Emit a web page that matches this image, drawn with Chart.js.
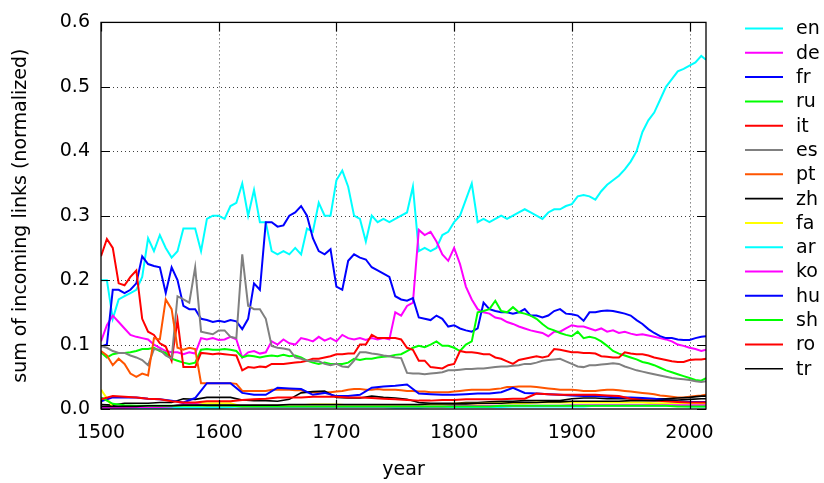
<!DOCTYPE html>
<html><head><meta charset="utf-8">
<script src="https://cdn.jsdelivr.net/npm/chart.js@4.4.0/dist/chart.umd.min.js"></script>
<style>html,body{margin:0;padding:0;background:#fff}#wrap{width:824px;height:483px}</style>
</head><body><div id="wrap"><canvas id="c" width="824" height="483"></canvas></div>
<script>
const yearsFine = [
1500,1505,1510,1515,1520,1525,1530,1535,1540,1545,
1550,1555,1560,1565,1570,1575,1580,1585,1590,1595,
1600,1605,1610,1615,1620,1625,1630,1635,1640,1645,
1650,1655,1660,1665,1670,1675,1680,1685,1690,1695,
1700,1705,1710,1715,1720,1725,1730,1735,1740,1745,
1750,1755,1760,1765,1770,1775,1780,1785,1790,1795,
1800,1805,1810,1815,1820,1825,1830,1835,1840,1845,
1850,1855,1860,1865,1870,1875,1880,1885,1890,1895,
1900,1905,1910,1915,1920,1925,1930,1935,1940,1945,
1950,1955,1960,1965,1970,1975,1980,1985,1990,1995,
2000,2005,2010,2014];
const yearsCoarse = [
1500,1510,1520,1530,1540,1550,1560,1570,1580,1590,
1600,1610,1620,1630,1640,1650,1660,1670,1680,1690,
1700,1710,1720,1730,1740,1750,1760,1770,1780,1790,
1800,1810,1820,1830,1840,1850,1860,1870,1880,1890,
1900,1910,1920,1930,1940,1950,1960,1970,1980,1990,
2000,2010,2014];

const languages = ['en','de','fr','ru','it','es','pt','zh','fa','ar','ko','hu','sh','ro','tr'];
const xTicks = [1500,1600,1700,1800,1900,2000];
const yTicks = [0,0.1,0.2,0.3,0.4,0.5,0.6];

const en = [
0.200,0.200,0.140,0.170,0.175,0.180,0.185,0.205,0.265,0.245,
0.270,0.250,0.235,0.245,0.280,0.280,0.280,0.245,0.295,0.300,
0.300,0.295,0.315,0.320,0.350,0.300,0.340,0.290,0.290,0.245,
0.240,0.245,0.240,0.250,0.240,0.280,0.275,0.320,0.300,0.300,
0.355,0.370,0.345,0.300,0.295,0.260,0.300,0.290,0.295,0.290,
0.295,0.300,0.305,0.345,0.245,0.250,0.245,0.250,0.270,0.275,
0.290,0.300,0.325,0.350,0.290,0.295,0.290,0.295,0.300,0.295,
0.300,0.305,0.310,0.305,0.300,0.295,0.305,0.310,0.310,0.315,
0.318,0.330,0.332,0.330,0.325,0.338,0.348,0.355,0.362,0.372,
0.384,0.400,0.430,0.448,0.460,0.480,0.500,0.512,0.524,0.528,
0.533,0.538,0.548,0.542];
const de = [
0.105,0.130,0.145,0.135,0.125,0.115,0.112,0.110,0.108,0.100,
0.095,0.090,0.088,0.088,0.085,0.088,0.086,0.110,0.108,0.110,
0.107,0.108,0.112,0.108,0.080,0.088,0.090,0.086,0.088,0.105,
0.100,0.108,0.102,0.100,0.110,0.108,0.105,0.112,0.106,0.110,
0.105,0.115,0.110,0.108,0.110,0.107,0.110,0.108,0.110,0.108,
0.150,0.145,0.160,0.165,0.278,0.270,0.275,0.260,0.240,0.230,
0.250,0.225,0.190,0.170,0.155,0.150,0.148,0.142,0.140,0.135,
0.132,0.128,0.125,0.122,0.120,0.118,0.113,0.120,0.120,0.125,
0.130,0.128,0.128,0.125,0.122,0.125,0.120,0.122,0.118,0.120,
0.117,0.115,0.116,0.114,0.112,0.110,0.108,0.105,0.100,0.098,
0.095,0.093,0.090,0.092];
const fr = [
0.097,0.100,0.185,0.185,0.180,0.185,0.195,0.237,0.225,0.222,
0.220,0.180,0.220,0.200,0.160,0.155,0.155,0.140,0.138,0.135,
0.137,0.135,0.138,0.136,0.124,0.140,0.195,0.185,0.290,0.290,
0.283,0.285,0.300,0.305,0.315,0.300,0.265,0.245,0.240,0.248,
0.190,0.185,0.230,0.240,0.235,0.232,0.220,0.215,0.210,0.205,
0.175,0.170,0.168,0.172,0.142,0.140,0.138,0.145,0.140,0.128,
0.130,0.125,0.122,0.120,0.125,0.165,0.155,0.152,0.150,0.150,
0.148,0.150,0.155,0.145,0.145,0.142,0.145,0.152,0.155,0.148,
0.147,0.145,0.137,0.150,0.150,0.152,0.153,0.152,0.150,0.148,
0.145,0.138,0.132,0.124,0.118,0.113,0.110,0.110,0.108,0.107,
0.107,0.110,0.112,0.113];
const ru = [
0.088,0.080,0.085,0.087,0.087,0.088,0.090,0.093,0.093,0.095,
0.090,0.087,0.078,0.075,0.072,0.070,0.072,0.092,0.093,0.092,
0.092,0.093,0.092,0.090,0.080,0.083,0.082,0.080,0.082,0.083,
0.082,0.084,0.082,0.083,0.080,0.075,0.072,0.070,0.072,0.070,
0.070,0.070,0.072,0.078,0.076,0.078,0.078,0.080,0.081,0.082,
0.084,0.085,0.090,0.095,0.098,0.096,0.100,0.105,0.098,0.098,
0.095,0.090,0.100,0.105,0.150,0.152,0.155,0.168,0.152,0.150,
0.158,0.150,0.148,0.145,0.140,0.132,0.125,0.122,0.118,0.115,
0.113,0.120,0.110,0.112,0.110,0.105,0.098,0.090,0.086,0.083,
0.080,0.077,0.073,0.071,0.068,0.064,0.060,0.057,0.054,0.051,
0.048,0.045,0.044,0.048];
const it = [
0.237,0.264,0.250,0.195,0.192,0.205,0.215,0.140,0.120,0.115,
0.102,0.097,0.075,0.138,0.065,0.065,0.065,0.087,0.086,0.085,
0.086,0.085,0.084,0.083,0.060,0.065,0.064,0.066,0.065,0.070,
0.070,0.070,0.071,0.072,0.073,0.075,0.078,0.078,0.080,0.082,
0.085,0.085,0.086,0.086,0.100,0.100,0.115,0.110,0.110,0.110,
0.110,0.108,0.095,0.092,0.075,0.075,0.065,0.064,0.063,0.068,
0.070,0.090,0.088,0.088,0.087,0.085,0.085,0.080,0.078,0.074,
0.070,0.076,0.078,0.080,0.082,0.080,0.082,0.093,0.092,0.090,
0.088,0.088,0.087,0.087,0.086,0.082,0.081,0.080,0.080,0.088,
0.086,0.085,0.085,0.083,0.080,0.078,0.076,0.074,0.073,0.073,
0.076,0.077,0.077,0.078];
const es = [
0.098,0.095,0.090,0.087,0.087,0.083,0.080,0.076,0.068,0.093,
0.092,0.083,0.078,0.175,0.170,0.165,0.220,0.120,0.118,0.116,
0.122,0.122,0.112,0.110,0.240,0.160,0.155,0.155,0.140,0.098,
0.095,0.094,0.092,0.080,0.078,0.075,0.075,0.074,0.070,0.068,
0.070,0.066,0.065,0.075,0.088,0.088,0.086,0.085,0.083,0.082,
0.080,0.079,0.056,0.055,0.055,0.054,0.055,0.056,0.057,0.060,
0.060,0.061,0.062,0.062,0.063,0.063,0.064,0.065,0.066,0.066,
0.067,0.068,0.070,0.070,0.072,0.075,0.076,0.077,0.078,0.074,
0.070,0.066,0.065,0.068,0.068,0.069,0.070,0.071,0.070,0.066,
0.063,0.060,0.058,0.056,0.054,0.052,0.050,0.048,0.047,0.046,
0.045,0.043,0.042,0.043];
const pt = [
0.090,0.083,0.068,0.078,0.070,0.055,0.050,0.055,0.052,0.110,
0.108,0.170,0.155,0.095,0.092,0.095,0.093,0.040,0.040,0.040,
0.040,0.040,0.040,0.039,0.028,0.028,0.028,0.028,0.028,0.030,
0.030,0.030,0.030,0.029,0.029,0.026,0.026,0.026,0.026,0.026,
0.027,0.028,0.030,0.031,0.031,0.030,0.030,0.031,0.030,0.030,
0.030,0.029,0.028,0.028,0.027,0.027,0.026,0.026,0.026,0.026,
0.027,0.028,0.029,0.030,0.030,0.030,0.030,0.031,0.032,0.034,
0.034,0.035,0.035,0.035,0.034,0.033,0.032,0.031,0.030,0.030,
0.030,0.029,0.028,0.028,0.028,0.029,0.030,0.030,0.029,0.028,
0.027,0.026,0.025,0.024,0.023,0.021,0.020,0.019,0.018,0.018,
0.019,0.020,0.021,0.022];
const zh = [
0.007,0.006,0.009,0.009,0.009,0.010,0.010,0.016,0.015,0.018,
0.018,0.018,0.014,0.013,0.013,0.012,0.015,0.025,0.027,0.028,
0.018,0.017,0.017,0.020,0.018,0.017,0.015,0.010,0.009,0.009,
0.009,0.010,0.010,0.011,0.012,0.012,0.013,0.013,0.013,0.013,
0.016,0.017,0.017,0.016,0.016,0.016,0.016,0.016,0.016,0.017,
0.018,0.020,0.020];
const fa = [
0.030,0.003,0.003,0.003,0.003,0.003,0.003,0.008,0.009,0.009,
0.009,0.009,0.004,0.005,0.005,0.005,0.005,0.006,0.007,0.007,
0.007,0.006,0.006,0.006,0.006,0.006,0.006,0.006,0.007,0.007,
0.008,0.008,0.008,0.009,0.009,0.009,0.009,0.010,0.010,0.010,
0.010,0.010,0.010,0.010,0.010,0.010,0.010,0.009,0.009,0.009,
0.009,0.008,0.008];
const ar = [
0.002,0.002,0.002,0.002,0.002,0.002,0.002,0.002,0.002,0.002,
0.002,0.003,0.004,0.003,0.003,0.003,0.003,0.003,0.003,0.003,
0.003,0.003,0.003,0.003,0.003,0.002,0.002,0.002,0.003,0.003,
0.003,0.003,0.003,0.003,0.003,0.004,0.004,0.004,0.004,0.004,
0.004,0.004,0.005,0.005,0.005,0.005,0.005,0.005,0.005,0.005,
0.004,0.004,0.004];
const ko = [
0.002,0.002,0.002,0.003,0.003,0.003,0.004,0.008,0.008,0.005,
0.005,0.005,0.004,0.004,0.004,0.004,0.004,0.004,0.004,0.004,
0.004,0.004,0.004,0.004,0.004,0.004,0.004,0.004,0.004,0.004,
0.005,0.005,0.005,0.005,0.005,0.005,0.005,0.005,0.005,0.005,
0.006,0.006,0.006,0.006,0.006,0.006,0.006,0.006,0.006,0.006,
0.006,0.006,0.006];
const hu = [
0.012,0.018,0.018,0.018,0.016,0.015,0.013,0.010,0.017,0.040,
0.040,0.040,0.025,0.022,0.022,0.033,0.032,0.031,0.022,0.025,
0.020,0.020,0.022,0.033,0.035,0.036,0.038,0.024,0.023,0.022,
0.022,0.023,0.024,0.024,0.026,0.033,0.025,0.024,0.023,0.022,
0.021,0.020,0.020,0.019,0.018,0.018,0.017,0.016,0.014,0.012,
0.011,0.011,0.011];
const sh = [
0.018,0.008,0.006,0.005,0.005,0.005,0.005,0.005,0.005,0.005,
0.005,0.005,0.004,0.004,0.004,0.004,0.004,0.004,0.004,0.004,
0.004,0.004,0.004,0.004,0.004,0.004,0.004,0.004,0.004,0.004,
0.004,0.004,0.004,0.004,0.005,0.005,0.005,0.005,0.005,0.005,
0.005,0.005,0.005,0.005,0.005,0.005,0.005,0.005,0.005,0.004,
0.004,0.004,0.004];
const ro = [
0.015,0.020,0.019,0.018,0.016,0.015,0.012,0.010,0.010,0.012,
0.012,0.012,0.014,0.015,0.016,0.018,0.018,0.018,0.019,0.019,
0.019,0.018,0.018,0.017,0.016,0.015,0.014,0.013,0.013,0.014,
0.014,0.015,0.015,0.015,0.015,0.016,0.016,0.024,0.023,0.022,
0.022,0.022,0.022,0.021,0.020,0.016,0.014,0.013,0.012,0.011,
0.010,0.010,0.010];
const tr = [
0.004,0.004,0.004,0.004,0.005,0.005,0.005,0.006,0.006,0.006,
0.006,0.006,0.006,0.006,0.006,0.006,0.007,0.007,0.007,0.007,
0.007,0.007,0.007,0.007,0.007,0.007,0.007,0.007,0.008,0.008,
0.008,0.008,0.009,0.009,0.009,0.010,0.010,0.010,0.011,0.011,
0.012,0.012,0.012,0.012,0.012,0.013,0.013,0.013,0.014,0.014,
0.015,0.016,0.016];

const seriesValues = [en,de,fr,ru,it,es,pt,zh,fa,ar,ko,hu,sh,ro,tr];
const seriesYears = [yearsFine,yearsFine,yearsFine,yearsFine,yearsFine,yearsFine,yearsFine,
  yearsCoarse,yearsCoarse,yearsCoarse,yearsCoarse,yearsCoarse,yearsCoarse,yearsCoarse,yearsCoarse];
const colors = ['#00ffff','#ff00ff','#0000ff','#00ff00','#ff0000','#808080','#ff5500','#000000',
  '#ffff00','#00ffff','#ff00ff','#0000ff','#00ff00','#ff0000','#000000'];
const widths = [2,2,2,2,2,2,2,1.6,2,2,2,2,2,2,1.6];

const FONT = 'DejaVu Sans';
const FS = 19;

const datasets = languages.map((lab, i) => ({
  label: lab,
  data: seriesYears[i].map((yr, j) => ({x: yr, y: seriesValues[i][j]})),
  borderColor: colors[i],
  backgroundColor: colors[i],
  borderWidth: widths[i],
  pointRadius: 0,
  tension: 0,
  fill: false,
  order: languages.length - i
}));

const framePlugin = {
  id: 'frame',
  beforeDatasetsDraw(chart) {
    const {ctx, chartArea: a, scales: {x, y}} = chart;
    ctx.save();
    ctx.strokeStyle = 'rgba(0,0,0,0.75)';
    ctx.lineWidth = 1;
    ctx.setLineDash([1, 3]);
    xTicks.forEach(v => {
      if (v > x.min && v < x.max) {
        const px = Math.round(x.getPixelForValue(v)) + 0.5;
        ctx.beginPath(); ctx.moveTo(px, a.top); ctx.lineTo(px, a.bottom); ctx.stroke();
      }
    });
    yTicks.forEach(v => {
      if (v > y.min && v < y.max) {
        const py = Math.round(y.getPixelForValue(v)) + 0.5;
        ctx.beginPath(); ctx.moveTo(a.left, py); ctx.lineTo(a.right, py); ctx.stroke();
      }
    });
    ctx.restore();
  },
  afterDatasetsDraw(chart) {
    const {ctx, chartArea: a, scales: {x, y}} = chart;
    ctx.save();
    ctx.setLineDash([]);
    ctx.strokeStyle = '#000';
    ctx.lineWidth = 1.3;
    ctx.strokeRect(a.left, a.top, a.right - a.left, a.bottom - a.top);
    const tl = 9;
    ctx.lineWidth = 1.2;
    xTicks.forEach(v => {
      const px = Math.round(x.getPixelForValue(v)) + 0.5;
      ctx.beginPath();
      ctx.moveTo(px, a.bottom); ctx.lineTo(px, a.bottom - tl);
      ctx.moveTo(px, a.top); ctx.lineTo(px, a.top + tl);
      ctx.stroke();
    });
    yTicks.forEach(v => {
      const py = Math.round(y.getPixelForValue(v)) + 0.5;
      ctx.beginPath();
      ctx.moveTo(a.left, py); ctx.lineTo(a.left + tl, py);
      ctx.moveTo(a.right, py); ctx.lineTo(a.right - tl, py);
      ctx.stroke();
    });
    // legend
    ctx.font = FS + 'px "' + FONT + '"';
    ctx.textAlign = 'left';
    ctx.textBaseline = 'middle';
    chart.data.datasets.forEach((ds, i) => {
      const ly = 28.5 + i * 24.3;
      ctx.strokeStyle = ds.borderColor;
      ctx.lineWidth = ds.borderWidth;
      ctx.beginPath(); ctx.moveTo(745, ly); ctx.lineTo(783, ly); ctx.stroke();
      ctx.fillStyle = '#000';
      ctx.fillText(ds.label, 796, ly + 1);
    });
    ctx.restore();
  }
};

new Chart(document.getElementById('c'), {
  type: 'line',
  data: {datasets},
  plugins: [framePlugin],
  options: {
    responsive: false,
    animation: false,
    devicePixelRatio: 1,
    layout: {padding: {top: 16, right: 118, left: 0, bottom: 0}},
    plugins: {legend: {display: false}, tooltip: {enabled: false}},
    scales: {
      x: {
        type: 'linear', min: 1500, max: 2014,
        afterBuildTicks: s => { s.ticks = xTicks.map(v => ({value: v})); },
        afterFit: s => { s.height = 74; },
        grid: {display: false, drawTicks: false},
        border: {display: false},
        ticks: {color: '#000', font: {family: FONT, size: FS}, padding: 13, maxRotation: 0, autoSkip: false,
                callback: v => String(v)},
        title: {display: true, text: 'year', color: '#000', font: {family: FONT, size: FS}, padding: {top: 0, bottom: 2}}
      },
      y: {
        type: 'linear', min: 0, max: 0.6,
        afterBuildTicks: s => { s.ticks = yTicks.map(v => ({value: v})); },
        afterFit: s => { s.width = 101; },
        grid: {display: false, drawTicks: false},
        border: {display: false},
        ticks: {color: '#000', font: {family: FONT, size: FS}, padding: 11, callback: v => Number(v).toFixed(1)},
        title: {display: true, text: 'sum of incoming links (normalized)', color: '#000', font: {family: FONT, size: FS}, padding: {top: 10, bottom: 0}}
      }
    }
  }
});
</script>
</body></html>
